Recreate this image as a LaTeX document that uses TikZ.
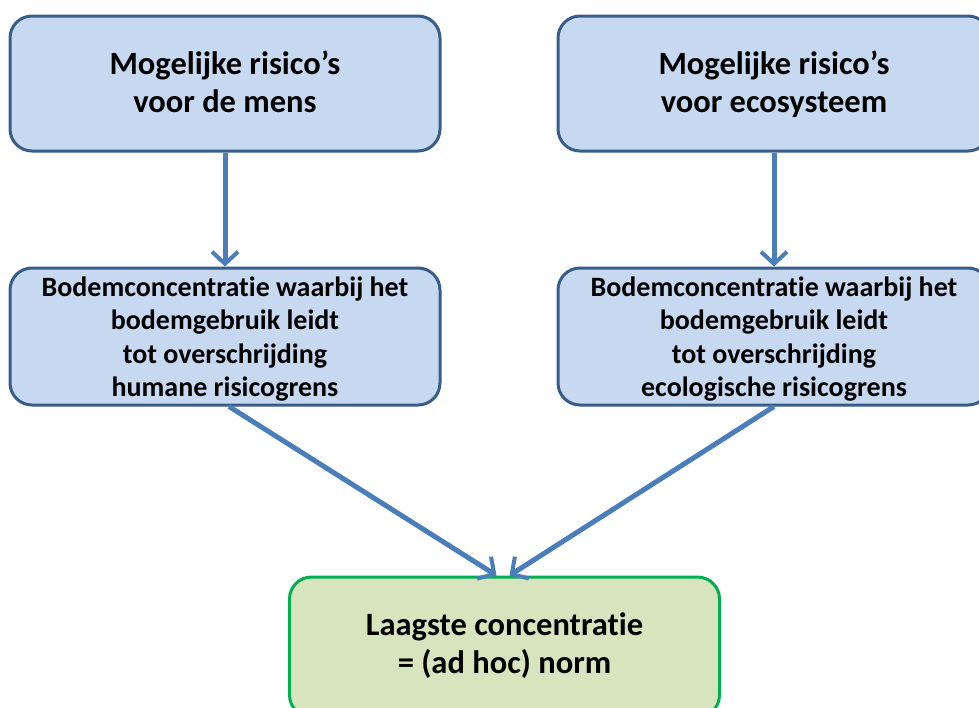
\documentclass[tikz,border=0pt]{standalone}
\usepackage{fontspec}
\setmainfont{Carlito}[Ligatures=NoCommon]
\usetikzlibrary{arrows.meta}
\definecolor{boxfill}{HTML}{C6D9F1}
\definecolor{boxline}{HTML}{385D8A}
\definecolor{arrowblue}{HTML}{4A7EBB}
\definecolor{normfill}{HTML}{D7E4BD}
\definecolor{normline}{HTML}{00B050}

\begin{document}
\begin{tikzpicture}[x=1pt, y=-1pt,
	riskbox/.style={draw=boxline, fill=boxfill, line width=3pt, rounded corners=22pt, minimum width=430pt, minimum height=135pt, align=center, text depth=4pt, font=\bfseries\fontsize{32.5}{38}\selectfont},
	soilbox/.style={riskbox, minimum height=137pt, text depth=0pt, font=\bfseries\fontsize{28}{33.5}\selectfont},
	normbox/.style={riskbox, draw=normline, fill=normfill, minimum height=140pt, text depth=7pt},
	flow/.style={draw=arrowblue, line width=5pt, -{Straight Barb[length=12pt, width=26pt, line width=4pt]}}]
	\useasboundingbox (0,0) rectangle (979,707);
	\clip (0,0) rectangle (979,707);

	\node[riskbox] (humrisk) at (225,83.5) {Mogelijke risico’s\\voor de mens};
	\node[riskbox, minimum width=432pt] (ecorisk) at (774,83.5) {Mogelijke risico’s\\voor ecosysteem};
	\node[soilbox] (humsoil) at (225,336.5) {Bodemconcentratie waarbij het\\bodemgebruik leidt\\tot overschrijding\\humane risicogrens};
	\node[soilbox, minimum width=432pt] (ecosoil) at (774,336.5) {Bodemconcentratie waarbij het\\bodemgebruik leidt\\tot overschrijding\\ecologische risicogrens};
	\node[normbox] (norm) at (504.5,647) {Laagste concentratie\\= (ad hoc) norm};

	\draw[flow] (humrisk.south) -- (humsoil.north);
	\draw[flow] (ecorisk.south) -- (ecosoil.north);
	\draw[flow] ([xshift=4pt]humsoil.south) -- ([xshift=-8pt]norm.north);
	\draw[flow] (ecosoil.south) -- ([xshift=5pt]norm.north);
\end{tikzpicture}
\end{document}
